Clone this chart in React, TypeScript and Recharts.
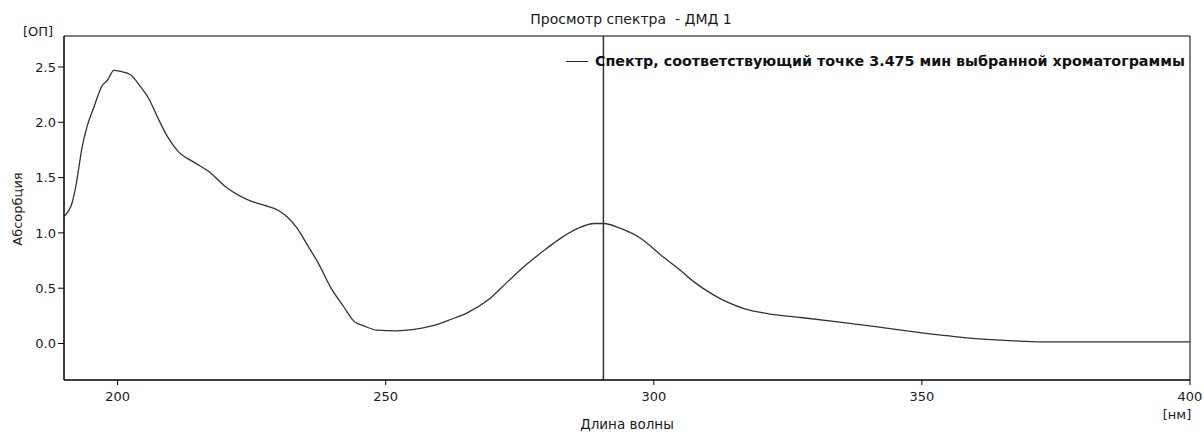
import React from 'react';
import { LineChart, Line, XAxis, YAxis, ReferenceLine, ReferenceArea, Legend } from 'recharts';

const wavelengths = [
  190, 191.5, 192.2, 193.4, 194.3, 195.6, 197.1, 198.1, 199.3, 200.6,
  202.4, 204.3, 205.8, 207.4, 209.3, 211.4, 214.2, 217.4, 219.8, 224.2,
  227.3, 230.1, 231.6, 233.5, 235.4, 237.5, 239.7, 242.2, 244.1, 245.9,
  248.4, 252, 255, 258.4, 262.1, 265.2, 269.0, 272.7, 276.4, 279.5,
  282.0, 285.8, 288.9, 290.7, 293.8, 297.6, 301.3, 305.0, 307.5, 311.2,
  316.8, 321.2, 327.4, 334.3, 341.7, 348.6, 357.9, 367.2, 371.6, 400,
];
const absorbance = [
  1.15, 1.27, 1.42, 1.78, 1.96, 2.14, 2.33, 2.38, 2.47, 2.46,
  2.43, 2.32, 2.215, 2.05, 1.87, 1.73, 1.64, 1.54, 1.43, 1.3,
  1.25, 1.2, 1.145, 1.04, 0.89, 0.72, 0.51, 0.33, 0.2, 0.16,
  0.12, 0.115, 0.125, 0.156, 0.217, 0.277, 0.39, 0.557, 0.72, 0.84,
  0.93, 1.04, 1.085, 1.085, 1.04, 0.95, 0.8, 0.66, 0.557, 0.437,
  0.316, 0.27, 0.235, 0.195, 0.15, 0.105, 0.054, 0.024, 0.015, 0.015,
];
const xTicks = [200, 250, 300, 350, 400];
const yTicks = [0, 0.5, 1, 1.5, 2, 2.5];
const xDomain = [190, 400];
const yDomain = [-0.33, 2.78];
const markerWavelength = 290.6;

const titleText = 'Просмотр спектра  - ДМД 1';
const legendText = 'Спектр, соответствующий точке 3.475 мин выбранной хроматограммы';
const xAxisTitle = 'Длина волны';
const xUnit = '[нм]';
const yAxisTitle = 'Абсорбция';
const yUnit = '[ОП]';

const data = wavelengths.map((w, i) => ({ w, a: absorbance[i] }));

const FONT = 'Tahoma, "DejaVu Sans", sans-serif';
const TEXT = '#1a1a1a';

const XLabels = () => (
  <g fontFamily={FONT} fill={TEXT}>
    <text x={631} y={24} fontSize={14} textAnchor="middle" style={{ whiteSpace: 'pre' }}>{titleText}</text>
    <text x={627} y={429} fontSize={13.5} textAnchor="middle">{xAxisTitle}</text>
    <text x={1177} y={419} fontSize={13} textAnchor="middle">{xUnit}</text>
  </g>
);

const YLabels = () => (
  <g fontFamily={FONT} fill={TEXT}>
    <text x={38} y={36} fontSize={13} textAnchor="middle">{yUnit}</text>
    <text x={22} y={209} fontSize={13} textAnchor="middle" transform="rotate(-90 22 209)">{yAxisTitle}</text>
  </g>
);

const LegendContent = () => (
  <div style={{ display: 'flex', alignItems: 'center', fontFamily: FONT, whiteSpace: 'nowrap' }}>
    <div style={{ width: 22, height: 0, borderTop: '1px solid #222', marginRight: 7 }} />
    <span style={{ fontWeight: 'bold', fontSize: 14.3, color: '#111' }}>{legendText}</span>
  </div>
);

export default function App() {
  return (
    <div style={{ position: 'absolute', left: 0, top: 0, background: '#fff' }}>
      <LineChart width={1204} height={432} data={data} margin={{ top: 36, right: 14, bottom: 0, left: 0 }}>
        <XAxis
          dataKey="w"
          type="number"
          domain={xDomain}
          ticks={xTicks}
          allowDataOverflow
          height={52}
          tickSize={5}
          tickMargin={7}
          stroke="#000"
          tick={{ fill: TEXT, fontSize: 13, fontFamily: FONT }}
          label={{ content: XLabels }}
        />
        <YAxis
          type="number"
          domain={yDomain}
          ticks={yTicks}
          allowDataOverflow
          width={64}
          tickSize={6}
          tickMargin={2}
          stroke="#000"
          tickFormatter={(v: number) => v.toFixed(1)}
          tick={{ fill: TEXT, fontSize: 13, fontFamily: FONT }}
          label={{ content: YLabels }}
        />
        <ReferenceArea x1={xDomain[0]} x2={xDomain[1]} y1={yDomain[0]} y2={yDomain[1]} fill="none" stroke="#000" strokeWidth={1} ifOverflow="visible" />
        <Legend layout="horizontal" verticalAlign="middle" align="center" wrapperStyle={{ position: 'absolute', top: 53, left: 566, width: 640, height: 20 }} content={LegendContent} />
        <Line type="monotone" dataKey="a" stroke="#333" strokeWidth={1.3} dot={false} isAnimationActive={false} />
        <ReferenceLine x={markerWavelength} stroke="#333" strokeWidth={1.5} />
      </LineChart>
    </div>
  );
}
